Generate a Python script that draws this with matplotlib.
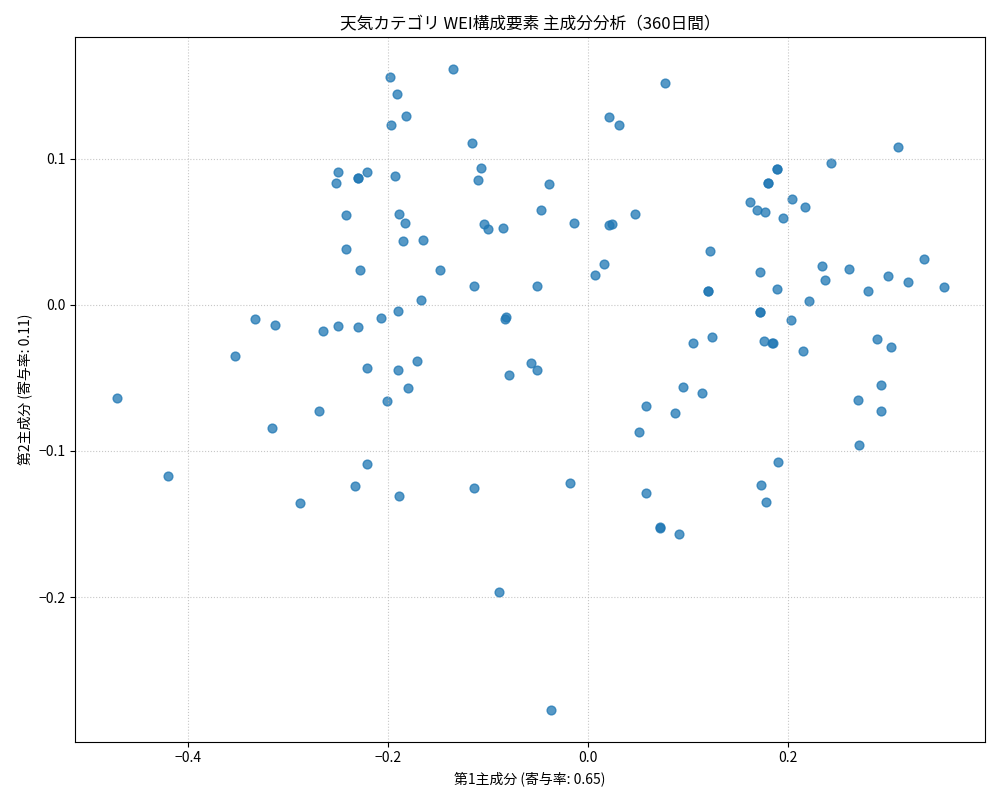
import numpy as np
import matplotlib
matplotlib.use("Agg")
import matplotlib.pyplot as plt

plt.rcParams["font.family"] = ["Noto Sans CJK JP", "DejaVu Sans"]

# Point positions in pixel units, converted to PC scores below
px = [117, 168, 235, 255, 275, 272, 300, 319, 323, 338, 336, 338, 346, 346, 358, 358, 360, 358,
      367, 367, 367, 355, 381, 387, 390, 391, 395, 397, 398, 398, 399, 399, 403, 405, 406, 408,
      417, 421, 423, 440, 453, 472, 474, 474, 478, 481, 484, 488, 503, 505, 506, 509, 499, 531,
      537, 537, 541, 549, 551, 570, 574, 595, 604, 609, 609, 612, 619, 635, 639, 646, 646, 660,
      660, 665, 675, 679, 683, 693, 702, 708, 708, 710, 712, 750, 757, 761, 760, 760, 760, 764,
      765, 766, 768, 768, 772, 773, 777, 777, 777, 778, 783, 791, 792, 805, 809, 803, 822, 825,
      831, 849, 858, 859, 868, 877, 881, 881, 888, 891, 898, 908, 924, 944]
py = [398, 476, 356, 319, 325, 428, 503, 411, 331, 326, 183, 172, 215, 249, 178, 178, 270, 327,
      172, 368, 464, 486, 318, 401, 77, 125, 176, 94, 311, 370, 214, 496, 241, 223, 116, 388,
      361, 300, 240, 270, 69, 143, 286, 488, 180, 168, 224, 229, 228, 319, 317, 375, 592, 363,
      286, 370, 210, 184, 710, 483, 223, 275, 264, 117, 225, 224, 125, 214, 432, 493, 406, 528,
      527, 83, 413, 534, 387, 343, 393, 291, 291, 251, 337, 202, 210, 485, 272, 312, 312, 341,
      212, 502, 183, 183, 343, 343, 169, 169, 289, 462, 218, 320, 199, 207, 301, 351, 266, 280,
      163, 269, 400, 445, 291, 339, 385, 411, 276, 347, 147, 282, 259, 287]

pc1 = (np.array(px) - 588) / 1000.0
pc2 = (305 - np.array(py)) / 1460.0

fig, ax = plt.subplots(figsize=(10, 8), dpi=100)
ax.scatter(pc1, pc2, s=40, color="tab:blue", alpha=0.75)
ax.set_xlim(-0.513, 0.397)
ax.set_ylim(-0.299, 0.1836)
ax.set_xticks([-0.4, -0.2, 0.0, 0.2])
ax.set_yticks([-0.2, -0.1, 0.0, 0.1])
ax.grid(True, linestyle=":", alpha=0.7)
ax.set_xlabel("第1主成分 (寄与率: 0.65)")
ax.set_ylabel("第2主成分 (寄与率: 0.11)")
ax.set_title("天気カテゴリ WEI構成要素 主成分分析（360日間）")
fig.subplots_adjust(left=0.075, right=0.985, top=0.954, bottom=0.073)
fig.savefig("out.png")
